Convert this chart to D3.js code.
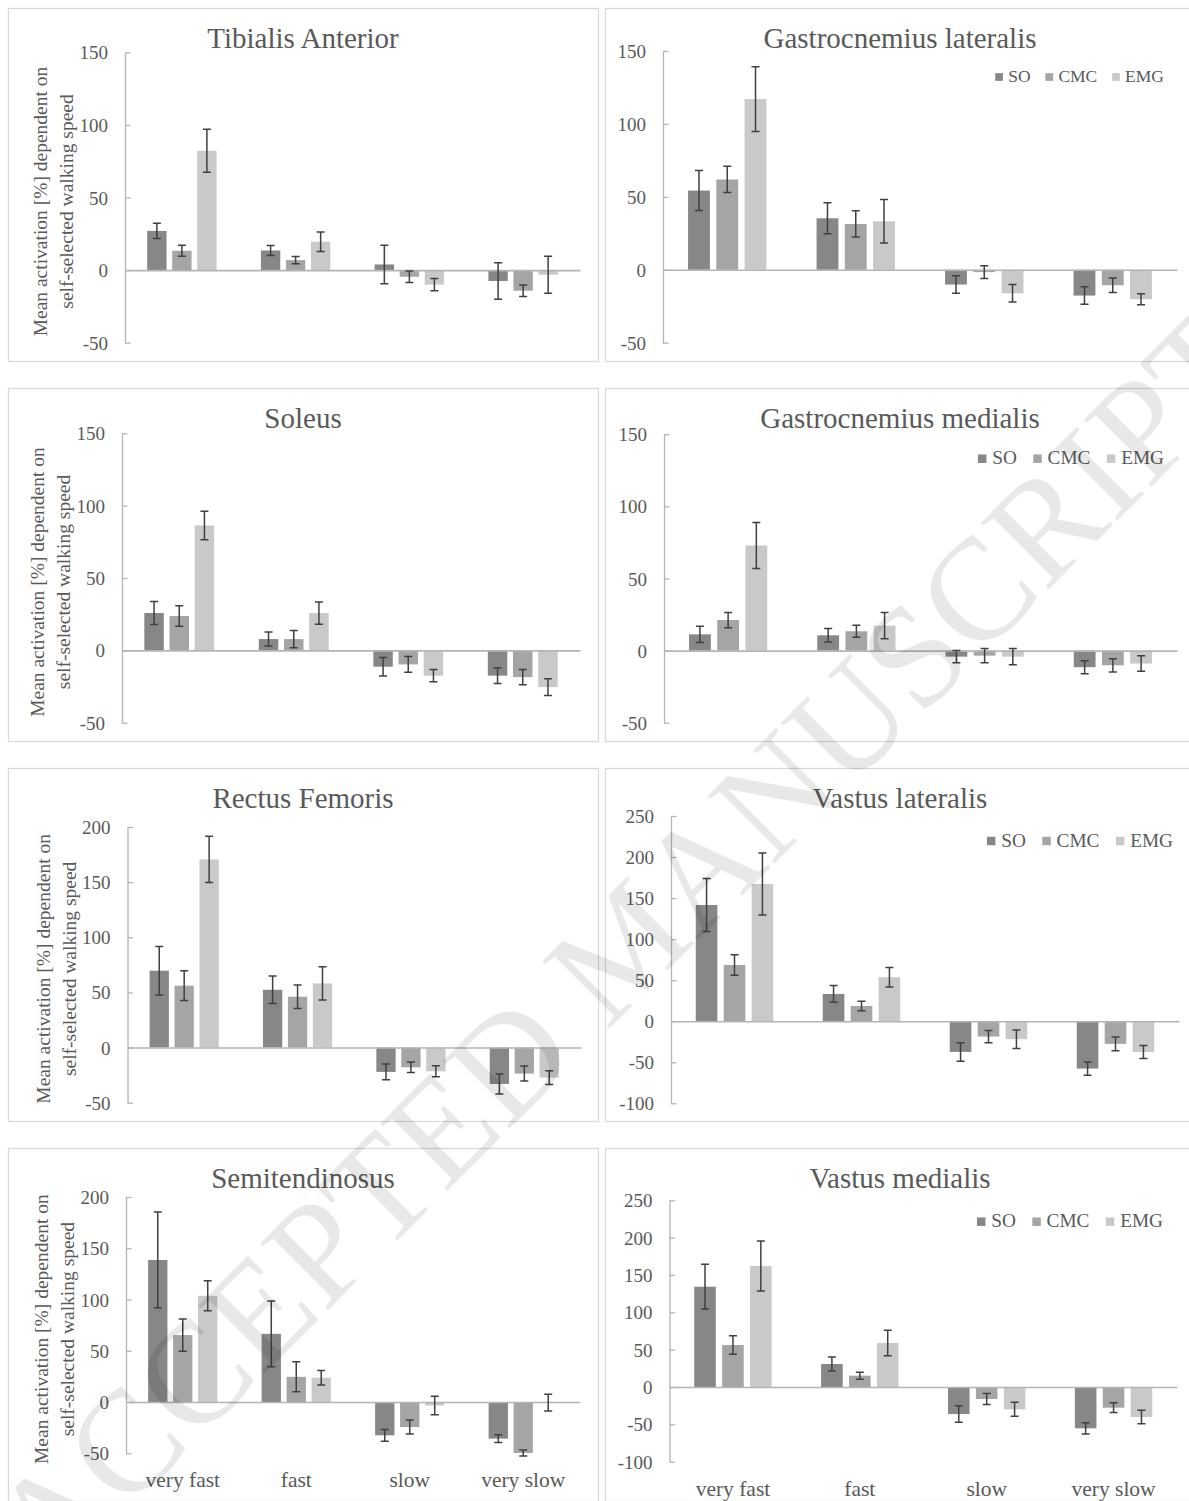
<!DOCTYPE html>
<html>
<head>
<meta charset="utf-8">
<script src="https://cdn.jsdelivr.net/npm/d3@7"></script>
<style>
  body { margin: 0; background: #fff; }
  svg { display: block; }
  text { font-family: "Liberation Serif", "Times New Roman", serif; }
</style>
</head>
<body>
<svg id="fig" width="1189" height="1501"></svg>
<script>
// ---- data: mean change in activation (%) relative to self-selected speed, with SD ----
const speeds = ["very fast", "fast", "slow", "very slow"];
const methods = ["SO", "CMC", "EMG"];
const muscles = ["Tibialis Anterior", "Gastrocnemius lateralis", "Soleus", "Gastrocnemius medialis",
                 "Rectus Femoris", "Vastus lateralis", "Semitendinosus", "Vastus medialis"];

// rows = speeds, columns = methods (SO, CMC, EMG)
const taMean = [[27, 13.3, 82.2], [13.5, 6.9, 19.5], [3.9, -4.6, -10], [-7.5, -14.2, -3.2]];
const taSd   = [[5.3, 3.8, 14.8], [3.5, 2.5, 6.7], [13.3, 4, 4.3], [12.6, 3.9, 12.7]];
const glMean = [[54.3, 61.9, 117], [35.3, 31.4, 33.2], [-10.1, -1.6, -16.1], [-17.7, -10.6, -20.2]];
const glSd   = [[13.7, 9, 22.2], [10.6, 9, 14.9], [6, 4.4, 6], [6, 5, 3.8]];
const solMean = [[25.8, 23.7, 86.3], [7.8, 7.8, 25.8], [-11.3, -9.7, -17.5], [-17.5, -18.5, -25.4]];
const solSd   = [[8, 7.1, 9.8], [4.8, 6, 7.7], [6.4, 5.4, 4.2], [5.4, 5.2, 5.8]];
const gmMean = [[11.3, 21.2, 72.9], [10.6, 13.4, 17.3], [-4.2, -3.5, -4.2], [-11.5, -10.2, -9]];
const gmSd   = [[5.6, 5.3, 15.9], [4.7, 4.2, 9.1], [4.2, 4.9, 5.6], [4.5, 4.6, 5.4]];
const rfMean = [[69.7, 56.1, 170.6], [52.4, 46.1, 58.2], [-22.1, -17.9, -21.5], [-33, -23.6, -27.3]];
const rfSd   = [[22, 13.5, 20.9], [12.4, 10.6, 15], [7.1, 4.8, 5], [9, 6.8, 6.2]];
const vlMean = [[141.6, 68.5, 167.2], [33.2, 18.6, 53.6], [-37.4, -18.7, -21.9], [-57.7, -27.6, -37.4]];
const vlSd   = [[32.3, 12.6, 37.7], [10.2, 5.8, 11.8], [11.3, 7.5, 11.2], [8.1, 8.5, 7.9]];
const stMean = [[138.6, 65.3, 103.6], [66.5, 24.6, 23.7], [-32.5, -24.4, -3.3], [-35.7, -49.7, -0.5]];
const stSd   = [[46.7, 15.7, 14.6], [32, 14.6, 7], [5.7, 6.8, 9], [3.7, 3, 8.2]];
const vmMean = [[134.3, 56.2, 162], [30.8, 15.2, 58.9], [-36.2, -16.1, -29.9], [-55.3, -27.7, -40.2]];
const vmSd   = [[30, 12.3, 33.5], [9.4, 4.7, 17.2], [11, 7.3, 9.4], [7.6, 6.5, 9]];

// y tick labels
const ticks150 = [-50, 0, 50, 100, 150];
const ticks200 = [-50, 0, 50, 100, 150, 200];
const ticks250 = [-100, -50, 0, 50, 100, 150, 200, 250];

const yTitleLines = ["Mean activation [%] dependent on", "self-selected walking speed"];
const watermark = "ACCEPTED MANUSCRIPT";

// ---- styling ----
const barColor = { SO: "#878787", CMC: "#a5a5a5", EMG: "#c9c9c9" };
const textColor = "#595959";
const axisColor = "#b4b4b4";
const errColor = "#404040";
const frameColor = "#d9d9d9";

// ---- layout of the 4 x 2 grid ----
const colX = [8, 605], rowY = [8, 388, 768, 1148], frameW = 590, frameH = 353;

const panels = [
  { mean: taMean,  sd: taSd,  ticks: ticks150, col: 0, row: 0, plot: [125, 580, 52.3, 342.7] },
  { mean: glMean,  sd: glSd,  ticks: ticks150, col: 1, row: 0, plot: [663, 1177, 51, 342.7],
    legend: { right: 1164, cy: 77, size: 17.5 } },
  { mean: solMean, sd: solSd, ticks: ticks150, col: 0, row: 1, plot: [122, 580, 433.3, 722.7] },
  { mean: gmMean,  sd: gmSd,  ticks: ticks150, col: 1, row: 1, plot: [664, 1177, 434.3, 722.7],
    legend: { right: 1164, cy: 458.7, size: 19.3 } },
  { mean: rfMean,  sd: rfSd,  ticks: ticks200, col: 0, row: 2, plot: [127.5, 581, 827, 1102.7] },
  { mean: vlMean,  sd: vlSd,  ticks: ticks250, col: 1, row: 2, plot: [671, 1179, 816, 1103.3],
    legend: { right: 1173, cy: 841, size: 19.3 } },
  { mean: stMean,  sd: stSd,  ticks: ticks200, col: 0, row: 3, plot: [126, 580, 1197, 1453.3], xLabels: true },
  { mean: vmMean,  sd: vmSd,  ticks: ticks250, col: 1, row: 3, plot: [669.5, 1177, 1200.3, 1461.7],
    legend: { right: 1163, cy: 1221.7, size: 19.3 }, xLabels: true }
];

const svg = d3.select("#fig");

panels.forEach((p, i) => {
  const fx = colX[p.col], fy = rowY[p.row];
  const [l, r, t, b] = p.plot;
  const g = svg.append("g");

  // chart frame
  g.append("rect")
    .attr("x", fx + 0.5).attr("y", fy + 0.5)
    .attr("width", frameW).attr("height", frameH)
    .attr("fill", "#fff").attr("stroke", frameColor).attr("stroke-width", 1.3);

  // title
  g.append("text")
    .attr("x", fx + frameW / 2).attr("y", fy + 40)
    .attr("text-anchor", "middle")
    .attr("font-size", 29).attr("fill", textColor)
    .text(muscles[i]);

  const x0 = d3.scaleBand().domain(speeds).range([l, r]);
  const bw = x0.bandwidth();
  const x1 = d3.scaleBand().domain(methods)
    .range([bw * 0.195, bw * 0.805]).paddingInner(0.227);
  const y = d3.scaleLinear()
    .domain([p.ticks[0], p.ticks[p.ticks.length - 1]])
    .range([b, t]);

  // value axis (ticks point into the plot, plain hyphen for negatives)
  const yAxis = d3.axisLeft(y).tickValues(p.ticks)
    .tickSize(-5.5).tickSizeOuter(0).tickPadding(17)
    .tickFormat(d => String(d));
  const ya = g.append("g").attr("transform", `translate(${l},0)`).call(yAxis);
  ya.attr("font-family", null).attr("font-size", null);
  ya.select(".domain").attr("stroke", axisColor).attr("stroke-width", 1.3);
  ya.selectAll(".tick line").attr("stroke", axisColor).attr("stroke-width", 1.3);
  ya.selectAll(".tick text")
    .attr("font-size", 19).attr("fill", textColor)
    .attr("dy", null).attr("dominant-baseline", "central");

  // bars
  const rows = speeds.flatMap((s, si) => methods.map((m, mi) => ({
    speed: s, method: m, value: p.mean[si][mi], sd: p.sd[si][mi]
  })));

  g.append("g").selectAll("rect").data(rows).join("rect")
    .attr("x", d => x0(d.speed) + x1(d.method))
    .attr("width", x1.bandwidth())
    .attr("y", d => y(Math.max(0, d.value)))
    .attr("height", d => Math.abs(y(d.value) - y(0)))
    .attr("fill", d => barColor[d.method]);

  // category axis line at zero
  const xAxis = d3.axisBottom(x0).tickSize(0).tickSizeOuter(0).tickFormat("");
  const xa = g.append("g").attr("transform", `translate(0,${y(0)})`).call(xAxis);
  xa.select(".domain").attr("stroke", axisColor).attr("stroke-width", 1.6);

  // error bars (± SD)
  const cap = 4;
  const eb = g.append("g").attr("stroke", errColor).attr("stroke-width", 1.5).attr("fill", "none");
  eb.selectAll("path").data(rows).join("path")
    .attr("d", d => {
      const cx = x0(d.speed) + x1(d.method) + x1.bandwidth() / 2;
      const y1 = y(d.value + d.sd), y2 = y(d.value - d.sd);
      return `M${cx},${y1}V${y2}M${cx - cap},${y1}H${cx + cap}M${cx - cap},${y2}H${cx + cap}`;
    });

  // y-axis title (left column only)
  if (p.col === 0) {
    const cy = (t + b) / 2 + 4;
    yTitleLines.forEach((line, k) => {
      g.append("text")
        .attr("transform", `translate(${l - 78 + 26 * k},${cy}) rotate(-90)`)
        .attr("text-anchor", "middle")
        .attr("font-size", 19.5).attr("fill", textColor)
        .text(line);
    });
  }

  // category labels under the bottom row
  if (p.xLabels) {
    g.append("g").selectAll("text").data(speeds).join("text")
      .attr("x", d => x0(d) + bw / 2)
      .attr("y", b + 34)
      .attr("text-anchor", "middle")
      .attr("font-size", 21.5).attr("fill", textColor)
      .text(d => d);
  }

  // legend
  if (p.legend) {
    const L = p.legend;
    const lg = g.append("g");
    const sq = L.size * 0.44, gapSq = L.size * 0.3, gapItem = L.size * 0.85;
    const items = methods.map(m => {
      const tx = lg.append("text").attr("font-size", L.size).attr("fill", textColor).text(m);
      return { m, tx, w: tx.node().getComputedTextLength() };
    });
    const total = d3.sum(items, it => sq + gapSq + it.w) + gapItem * (items.length - 1);
    let cx = L.right - total;
    items.forEach(it => {
      lg.append("rect").attr("x", cx).attr("y", L.cy - sq / 2)
        .attr("width", sq).attr("height", sq).attr("fill", barColor[it.m]);
      it.tx.attr("x", cx + sq + gapSq).attr("y", L.cy + L.size * 0.3);
      cx += sq + gapSq + it.w + gapItem;
    });
  }
});

// diagonal manuscript stamp over the figure
svg.append("text")
  .attr("transform", "translate(51,1587) rotate(-45)")
  .attr("font-size", 145)
  .attr("fill", "#000").attr("fill-opacity", 0.09)
  .text(watermark);
</script>
</body>
</html>
